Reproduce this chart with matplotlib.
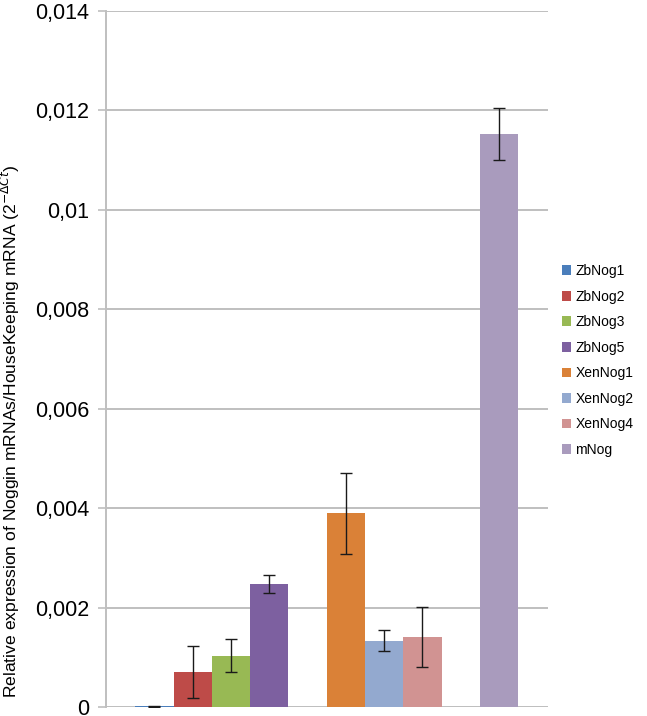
import matplotlib
matplotlib.use("Agg")
import matplotlib.pyplot as plt
from matplotlib.ticker import FuncFormatter

plt.rcParams['font.family'] = ['Liberation Sans', 'DejaVu Sans']

# values
genes = ["ZbNog1", "ZbNog2", "ZbNog3", "ZbNog5", "XenNog1", "XenNog2", "XenNog4", "mNog"]
expression = [0.00002, 0.00071, 0.00104, 0.00248, 0.0039, 0.00134, 0.00142, 0.01153]
errors = [0.00001, 0.00053, 0.00033, 0.00018, 0.00082, 0.00021, 0.0006, 0.00052]
slots = [0, 1, 2, 3, 5, 6, 7, 9]   # gaps between the three groups
colors = ["#4A7EBB", "#BE4B48", "#98B954", "#7D60A0",
          "#DA8137", "#93A9CF", "#D19392", "#A99BBD"]
yticks = [0, 0.002, 0.004, 0.006, 0.008, 0.010, 0.012, 0.014]


def comma_fmt(v, pos):
    if v == 0:
        return "0"
    return f"{v:.3f}".rstrip("0").replace(".", ",")


fig = plt.figure(figsize=(6.47, 7.16), dpi=100)
ax = fig.add_axes([0.164, 0.012, 0.683, 0.973])

for s, val, err, col, name in zip(slots, expression, errors, colors, genes):
    ax.bar(s, val, width=1.0, color=col, label=name, zorder=3)
    ax.errorbar(s, val, yerr=err, fmt="none", ecolor="#1a1a1a",
                elinewidth=1.0, capsize=4, capthick=1.0, zorder=4)

ax.set_xlim(-1.26, 10.28)
ax.set_ylim(0, 0.014)
ax.set_yticks(yticks)
ax.yaxis.set_major_formatter(FuncFormatter(comma_fmt))
ax.yaxis.grid(True, color="#BFBFBF", linewidth=1.4, zorder=0)
ax.set_xticks([])

for side in ["top", "right", "bottom"]:
    ax.spines[side].set_visible(False)
ax.spines["left"].set_color("#BFBFBF")
ax.spines["left"].set_linewidth(1.4)
ax.axhline(0, color="#BFBFBF", linewidth=1.4, zorder=2)
ax.tick_params(axis="y", direction="out", length=6, width=1.2,
               color="#BFBFBF", labelsize=15.5, pad=6)

ax.set_ylabel("Relative expression of Noggin mRNAs/HouseKeeping mRNA (2$^{-\\Delta Ct}$)",
              fontsize=12.6)
ax.yaxis.set_label_coords(-0.19, 0.396)

ax.legend(loc="center left", bbox_to_anchor=(1.018, 0.498), frameon=False,
          fontsize=10, handlelength=0.7, handleheight=0.7, handletextpad=0.3,
          labelspacing=0.83, borderaxespad=0)

fig.savefig("out.png", dpi=100)
